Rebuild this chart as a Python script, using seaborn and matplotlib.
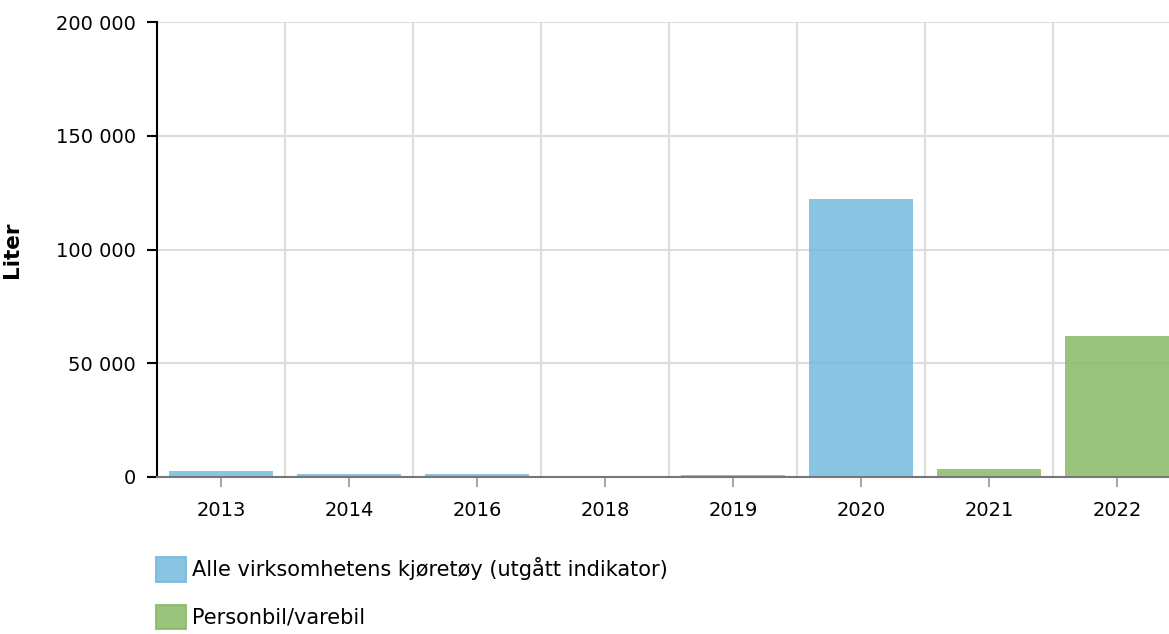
import pandas as pd
import matplotlib.pyplot as plt
import matplotlib.ticker as mticker
from matplotlib.patches import Patch
import seaborn as sns

# ─── data ────────────────────────────────────────────────────────────────────
years  = ["2013", "2014", "2016", "2018", "2019", "2020", "2021", "2022"]
values = [2500, 1500, 1500, 0, 800, 122000, 3500, 62000]
series = ["Alle virksomhetens kjøretøy (utgått indikator)"] * 6 + ["Personbil/varebil"] * 2
series_names = ["Alle virksomhetens kjøretøy (utgått indikator)", "Personbil/varebil"]
colors = ["#74BADE", "#89BA67"]

df = pd.DataFrame({"Year": years, "Liter": values, "Series": series})

sns.set_style("white")
plt.rcParams["font.family"] = ["DejaVu Sans"]
plt.rcParams["text.color"] = "black"
plt.rcParams["xtick.labelcolor"] = "black"
plt.rcParams["ytick.labelcolor"] = "black"
plt.rcParams["axes.labelcolor"] = "black"

fig = plt.figure(figsize=(11.69, 6.34), dpi=100)
ax = fig.add_axes([157 / 1169, 157 / 634, 1024 / 1169, 455 / 634])

sns.barplot(data=df, x="Year", y="Liter", hue="Series", hue_order=series_names,
            palette=colors, saturation=1, order=years, dodge=False, width=0.82,
            alpha=0.85, linewidth=0, ax=ax, legend=False, zorder=3)

ax.set_xlim(-0.5, len(years) - 0.5)
ax.set_ylim(0, 200000)
ax.yaxis.set_major_locator(mticker.MultipleLocator(50000))
ax.yaxis.set_major_formatter(mticker.FuncFormatter(lambda v, p: f"{int(v):,}".replace(",", " ")))

# grid: horizontal at ticks, vertical between categories
ax.set_xticks([i + 0.5 for i in range(len(years))], minor=True)
ax.grid(axis="y", which="major", color="#dddddd", lw=1.5, zorder=0)
ax.grid(axis="x", which="minor", color="#dddddd", lw=1.5, zorder=0)
ax.set_axisbelow(True)

for s in ["top", "right"]:
    ax.spines[s].set_visible(False)
ax.spines["left"].set_color("black")
ax.spines["left"].set_linewidth(1.5)
ax.spines["bottom"].set_color("#777777")
ax.spines["bottom"].set_linewidth(1.5)
ax.spines["bottom"].set_zorder(4)

ax.tick_params(axis="y", which="major", left=True, length=7, width=1.5, color="black",
               labelsize=14, pad=8)
ax.tick_params(axis="x", which="major", bottom=True, length=7, width=1.5, color="#aaaaaa",
               labelsize=14, pad=10)
ax.tick_params(axis="x", which="minor", bottom=False, length=0)

ax.set_xlabel("")
ax.set_ylabel("Liter", fontsize=15.5, fontweight="bold")
ax.yaxis.set_label_coords(-0.132, 0.5)

handles = [Patch(facecolor=c, edgecolor=c, alpha=0.85, lw=1.5) for c in colors]
fig.legend(handles, series_names, loc="upper left",
           bbox_to_anchor=(156 / 1169, 1 - 557 / 634), frameon=False,
           borderpad=0, borderaxespad=0, fontsize=15,
           handlelength=1.45, handleheight=1.45, handletextpad=0.3,
           labelspacing=1.1)

fig.savefig("out.png", dpi=100)
